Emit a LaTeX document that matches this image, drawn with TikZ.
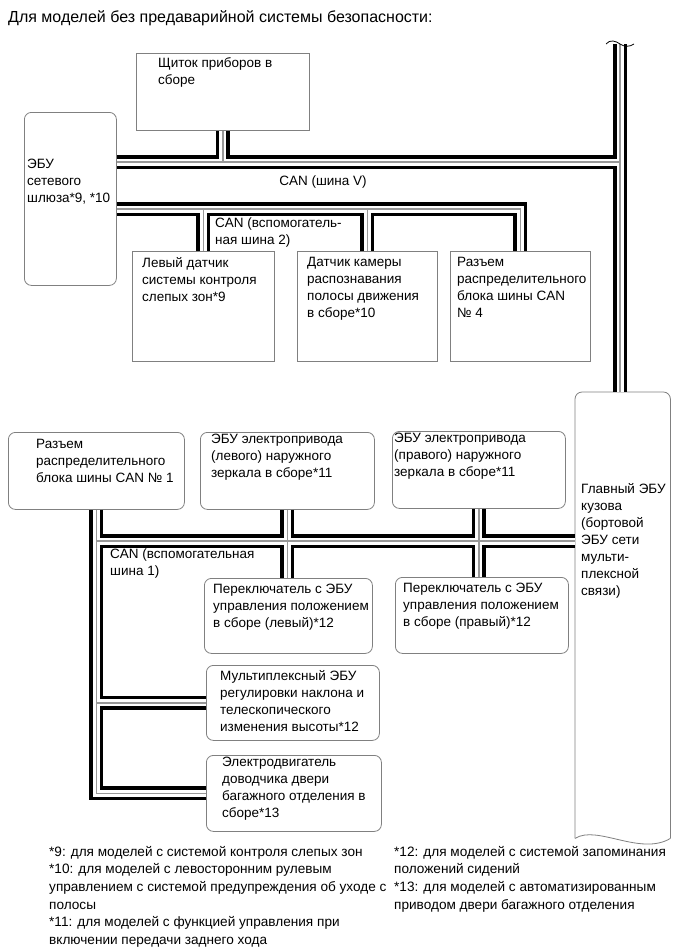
\documentclass[tikz,border=0pt]{standalone}
\usepackage{fontspec}
\setmainfont{Liberation Sans}
\usetikzlibrary{positioning}

\definecolor{boxgray}{gray}{0.5}
\definecolor{wiregray}{gray}{0.6}

\begin{document}
\begin{tikzpicture}[x=1pt,y=-1pt,
    sbox/.style={draw=boxgray, line width=0.8pt, anchor=north west, inner sep=0pt},
    rbox/.style={sbox, rounded corners=7pt},
    txt/.style={inner sep=0pt, align=left, font=\fontsize{13.5}{17}\selectfont},
    note/.style={txt, anchor=north west, font=\fontsize{13.6}{17.6}\selectfont}]

  % Frame
  \path[use as bounding box, fill=white] (0,0) rectangle (690,951);

  % Title
  \node[txt, anchor=west, font=\fontsize{16}{19}\selectfont] (title) at (8,18) {Для моделей без предаварийной системы безопасности:};

  % Boxes, upper part
  \node[sbox, minimum width=173, minimum height=77] (panel) at (136,53) {};
  \node[rbox, minimum width=92, minimum height=173] (gw) at (24,112) {};
  \node[sbox, minimum width=142, minimum height=110] (bsm) at (132,251) {};
  \node[sbox, minimum width=140, minimum height=110] (cam) at (297,251) {};
  \node[sbox, minimum width=140, minimum height=110] (can4) at (450,251) {};

  % Boxes, lower part
  \node[rbox, minimum width=176, minimum height=77] (can1) at (8,432) {};
  \node[rbox, minimum width=174, minimum height=77] (lmir) at (200,432) {};
  \node[rbox, minimum width=173, minimum height=77] (rmir) at (392,431) {};
  \node[rbox, minimum width=168, minimum height=75] (lsw) at (204,578) {};
  \node[rbox, minimum width=173, minimum height=76] (rsw) at (395,577) {};
  \node[rbox, minimum width=173, minimum height=75] (mpx) at (206,665) {};
  \node[rbox, minimum width=175, minimum height=76] (tail) at (206,755) {};
  \node[anchor=north west, inner sep=0pt, minimum width=95, minimum height=446] (main) at (575,392) {};
  \draw[boxgray, line width=0.8pt, rounded corners=7pt] (main.south west) -- (main.north west) -- (main.north east) -- (main.south east);
  \draw[boxgray, line width=0.8pt] (main.south west) .. controls +(22,-14) and +(-30,18) .. (main.south east);

  % Box texts
  \node[txt, below right=4pt and 22pt of panel.north west] (panelT) {Щиток приборов в\\сборе};
  \node[txt, below right=47pt and 3pt of gw.north west] (gwT) {ЭБУ\\сетевого\\шлюза*9, *10};
  \node[txt, below right=6pt and 10pt of bsm.north west] (bsmT) {Левый датчик\\системы контроля\\слепых зон*9};
  \node[txt, below right=6pt and 10pt of cam.north west] (camT) {Датчик камеры\\распознавания\\полосы движения\\в сборе*10};
  \node[txt, below right=6pt and 7pt of can4.north west] (can4T) {Разъем\\распределительного\\блока шины CAN\\№ 4};
  \node[txt, below right=7pt and 28pt of can1.north west] (can1T) {Разъем\\распределительного\\блока шины CAN № 1};
  \node[txt, below right=2pt and 11pt of lmir.north west] (lmirT) {ЭБУ электропривода\\(левого) наружного\\зеркала в сборе*11};
  \node[txt, below right=2pt and 2pt of rmir.north west] (rmirT) {ЭБУ электропривода\\(правого) наружного\\зеркала в сборе*11};
  \node[txt, below right=6pt and 9pt of lsw.north west] (lswT) {Переключатель с ЭБУ\\управления положением\\в сборе (левый)*12};
  \node[txt, below right=6pt and 8pt of rsw.north west] (rswT) {Переключатель с ЭБУ\\управления положением\\в сборе (правый)*12};
  \node[txt, below right=5pt and 14pt of mpx.north west] (mpxT) {Мультиплексный ЭБУ\\регулировки наклона и\\телескопического\\изменения высоты*12};
  \node[txt, below right=2pt and 16pt of tail.north west] (tailT) {Электродвигатель\\доводчика двери\\багажного отделения в\\сборе*13};
  \node[txt, below right=91pt and 6pt of main.north west] (mainT) {Главный ЭБУ\\кузова\\(бортовой\\ЭБУ сети\\мульти-\\плексной\\связи)};

  % Buses
  \coordinate (trunk) at (620,44);
  \coordinate (busV) at (0,162);
  \coordinate (bus2) at (0,209);
  \coordinate (bus1) at (0,541);
  \foreach \w/\c in {14/black, 7/white, 1.2/wiregray} {
    \begin{scope}[line width=\w pt, color=\c]
      \draw (trunk) -- (trunk |- main.north);
      \draw (gw.east |- busV) -- (trunk |- busV);
      \draw (panel.south) -- (panel.south |- busV);
      \draw (gw.east |- bus2) -| (can4.north);
      \draw (bsm.north) -- (bsm.north |- bus2);
      \draw (cam.north) -- (cam.north |- bus2);
      \draw (can1.south) |- (tail.west);
      \draw (can1.south |- mpx.west) -- (mpx.west);
      \draw (can1.south |- bus1) -- (main.west |- bus1);
      \draw (lmir.south) -- (lmir.south |- lsw.north);
      \draw (rmir.south) -- (rmir.south |- rsw.north);
    \end{scope}
  }
  % break mark on the trunk
  \draw[line width=0.8pt] ([xshift=-14pt]trunk) .. controls +(4,-5) and +(-4,-3) .. (trunk) .. controls +(4,3) and +(-4,3) .. ([xshift=14pt]trunk);

  % Bus labels
  \node[txt] (busVT) at (323,182) {CAN (шина V)};
  \node[txt, anchor=north west] (bus2T) at (215,218) {CAN (вспомогатель-\\ная шина 2)};
  \node[txt, anchor=north west] (bus1T) at (110,549) {CAN (вспомогательная\\шина 1)};

  % Notes
  \node[note] (noteL) at (49,846) {*9: для моделей с системой контроля слепых зон\\*10: для моделей с левосторонним рулевым\\управлением с системой предупреждения об уходе с\\полосы\\*11: для моделей с функцией управления при\\включении передачи заднего хода};
  \node[note] (noteR) at (394,846) {*12: для моделей с системой запоминания\\положений сидений\\*13: для моделей с автоматизированным\\приводом двери багажного отделения};
\end{tikzpicture}
\end{document}
